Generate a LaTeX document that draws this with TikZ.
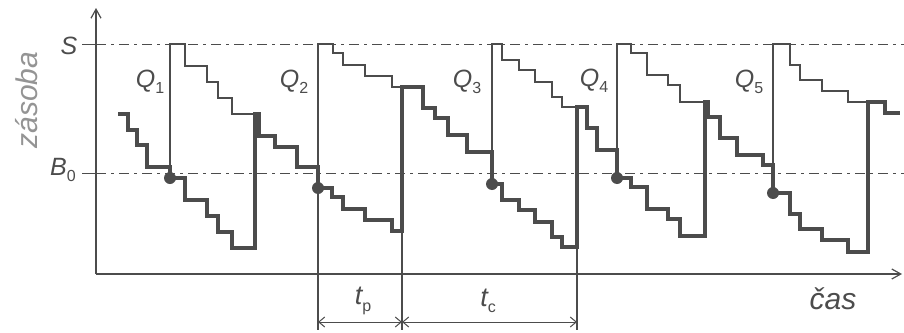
\documentclass[tikz,border=0pt]{standalone}
\usepackage{fontspec}
\setmainfont{Liberation Sans}
\usetikzlibrary{arrows.meta}
\definecolor{ink}{gray}{0.3}
\definecolor{pale}{gray}{0.58}
\newcommand\lowidx[1]{\raisebox{-0.45ex}{\fontsize{16}{17}\selectfont\upshape #1}}

\begin{document}
\begin{tikzpicture}[x=1pt,y=-1pt,
  every node/.style={text=ink,font=\fontsize{25}{27}\selectfont\itshape},
  stock/.style={draw=ink,line width=3.4pt},
  position/.style={draw=ink,line width=1.2pt},
  level/.style={draw=ink,line width=1pt,dash pattern=on 10pt off 5pt on 3pt off 5pt},
  dimline/.style={draw=ink,line width=1pt,{Straight Barb[length=6pt,width=10pt]}-{Straight Barb[length=6pt,width=10pt]}},
  orderpt/.style={circle,fill=ink,inner sep=0pt,minimum size=12pt}]

\useasboundingbox (0,0) rectangle (904,332);

% axes
\coordinate (o) at (96,274);
\coordinate (xend) at (902,274);
\coordinate (yend) at (96,8);
\draw[ink,line width=1.2pt,-{Straight Barb[length=9pt,width=10pt]}] (o) -- (xend);
\draw[ink,line width=1.2pt,-{Straight Barb[length=9pt,width=10pt]}] (o) -- (yend);

% levels S and B0
\draw[level] (96,44) -- (904,44);
\draw[level] (96,173) -- (904,173);
\draw[ink,line width=1pt] (82,44) -- (96,44);
\draw[ink,line width=1pt] (82,173) -- (96,173);
\node (lS) at (69,46) {S};
\node (lB) at (63,170) {B\lowidx{0}};
\node[text=pale,font=\fontsize{30}{32}\selectfont\itshape,rotate=90] (lzas) at (27,100) {zásoba};
\node[font=\fontsize{30}{32}\selectfont\itshape] (lcas) at (833,299) {čas};

% order points
\coordinate (d1) at (170,178);
\coordinate (d2) at (318,188);
\coordinate (d3) at (492,184);
\coordinate (d4) at (617,178);
\coordinate (d5) at (773,193);

% inventory position after each order
\draw[position] (d1) -- (170,44) -| (185,66) -| (207,82) -| (218,98) -| (232,114) -- (255,114);
\draw[position] (d2) -- (318,44) -| (333,53) -| (343,65) -| (365,76) -| (392,87) -- (402,87);
\draw[position] (d3) -- (492,44) -| (502,60) -| (519,70) -| (535,82) -| (552,97) -| (562,107) -- (577,107);
\draw[position] (d4) -- (617,44) -| (631,53) -| (647,75) -| (668,85) -| (680,102) -- (705,102);
\draw[position] (d5) -- (773,44) -| (790,65) -| (800,80) -| (822,91) -| (848,102) -- (868,102);

% stock on hand
\draw[stock] (118,114) -| (128,130) -| (137,145) -| (147,167) -| (d1)
  -| (185,200) -| (207,216) -| (218,232) -| (232,248) -- (255,248) -- (255,114)
  -| (259,136) -| (275,147) -| (297,167) -| (d2)
  -| (332,197) -| (343,209) -| (365,220) -| (392,231) -- (402,231) -- (402,87)
  -| (423,108) -| (435,118) -| (448,135) -| (467,152) -| (d3)
  -| (502,200) -| (519,210) -| (535,222) -| (552,237) -| (562,247) -- (577,247) -- (577,107)
  -| (587,128) -| (597,150) -| (d4)
  -| (631,187) -| (647,209) -| (668,219) -| (680,236) -- (705,236) -- (705,102)
  -| (708,117) -| (720,138) -| (737,155) -| (763,165) -| (d5)
  -| (790,214) -| (800,229) -| (822,240) -| (848,252) -- (868,252) -- (868,102)
  -| (885,113) -- (900,113);

\foreach \d in {d1,d2,d3,d4,d5}
  \node[orderpt] at (\d) {};

\node (q1) at (150,82) {Q\lowidx{1}};
\node (q2) at (294,82) {Q\lowidx{2}};
\node (q3) at (467,82) {Q\lowidx{3}};
\node (q4) at (594,81) {Q\lowidx{4}};
\node (q5) at (749,82) {Q\lowidx{5}};

% lead time and cycle time
\coordinate (ta) at (318,330);
\coordinate (tb) at (402,330);
\coordinate (tc) at (577,330);
\draw[position] (d2) -- (ta);
\draw[position] (402,231) -- (tb);
\draw[position] (577,247) -- (tc);
\draw[dimline] (318,322) -- (402,322);
\draw[dimline] (402,322) -- (577,322);
\node[font=\fontsize{27}{29}\selectfont\itshape] (ltp) at (363,301) {t\lowidx{p}};
\node[font=\fontsize{27}{29}\selectfont\itshape] (ltc) at (488,301) {t\lowidx{c}};
\end{tikzpicture}
\end{document}
